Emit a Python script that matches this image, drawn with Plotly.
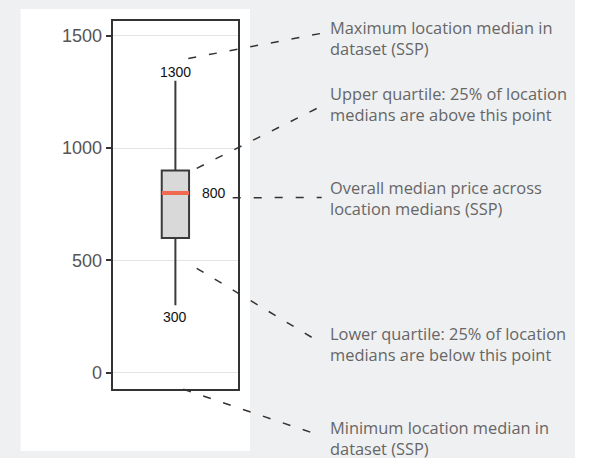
import plotly.graph_objects as go

# ---- data ----
stat_names = ["min", "q1", "median", "q3", "max"]
stat_values = [300, 600, 800, 900, 1300]
y_ticks = [0, 500, 1000, 1500]
y_tick_labels = ["0", "500", "1000", "1500"]
callout_texts = [
    "Maximum location median in<br>dataset (SSP)",
    "Upper quartile: 25% of location<br>medians are above this point",
    "Overall median price across<br>location medians (SSP)",
    "Lower quartile: 25% of location<br>medians are below this point",
    "Minimum location median in<br>dataset (SSP)",
]

vmin, q1, med, q3, vmax = stat_values

W, H = 575, 458
BOX_W = 0.22


def px(x):
    return x / W


def py(y):
    return 1 - y / H


fig = go.Figure()

fig.add_trace(go.Box(
    x=[0], q1=[q1], median=[med], q3=[q3], lowerfence=[vmin], upperfence=[vmax],
    width=BOX_W, whiskerwidth=0,
    fillcolor="#d9d9d9", line=dict(color="#3a3a3a", width=2),
    boxpoints=False, hoverinfo="skip", showlegend=False,
))
# red median line
fig.add_trace(go.Scatter(
    x=[-BOX_W / 2, BOX_W / 2], y=[med, med], mode="lines",
    line=dict(color="#ef6a50", width=4), hoverinfo="skip", showlegend=False,
))

# value labels
fig.add_annotation(x=0, y=vmax, text=str(vmax), showarrow=False, yshift=9,
                   font=dict(family="Arial", size=14, color="#111"))
fig.add_annotation(x=0, y=vmin, text=str(vmin), showarrow=False, yshift=-12,
                   font=dict(family="Arial", size=14, color="#111"))
fig.add_annotation(x=BOX_W / 2, y=med, text=str(med), showarrow=False, xanchor="left",
                   xshift=11, font=dict(family="Arial", size=14, color="#111"))

# background panels
shapes = [
    dict(type="rect", xref="paper", yref="paper", x0=px(20.7), x1=px(250), y0=py(451), y1=py(9),
         fillcolor="white", line=dict(width=0), layer="below"),
]

# callout lines (pixel geometry)
lines = [
    ((188.3, 58.5), (321.7, 33.3)),
    ((196.7, 168.3), (321.7, 106.0)),
    ((232.7, 197.7), (321.7, 197.5)),
    ((196.7, 268.3), (321.7, 343.3)),
    ((183.3, 389.3), (321.7, 436.0)),
]
for (x0, y0), (x1, y1) in lines:
    shapes.append(dict(type="line", xref="paper", yref="paper",
                       x0=px(x0), y0=py(y0), x1=px(x1), y1=py(y1),
                       line=dict(color="#333", width=1.5, dash="8px,13px"), layer="above"))

text_y = [37.5, 104, 197.7, 343.5, 437.5]
for t, yy in zip(callout_texts, text_y):
    fig.add_annotation(xref="paper", yref="paper", x=px(328), y=py(yy), text=t,
                       showarrow=False, xanchor="left", yanchor="middle", align="left",
                       font=dict(family="Open Sans", size=16.4, color="#666"))

fig.update_layout(
    width=W, height=H,
    margin=dict(l=0, r=0, t=0, b=0, autoexpand=False),
    paper_bgcolor="#eff0f2", plot_bgcolor="white",
    shapes=shapes,
    xaxis=dict(domain=[px(113.3), px(237.5)], range=[-0.5, 0.5], showticklabels=False,
               showgrid=False, zeroline=False, showline=True, mirror=True,
               linecolor="#333", linewidth=1.5, ticks=""),
    yaxis=dict(domain=[py(389), py(20.7)], range=[-72.6, 1567],
               tickvals=y_ticks, ticktext=y_tick_labels,
               showgrid=True, gridcolor="#e3e3e3", gridwidth=1, zeroline=False,
               showline=True, mirror=True, linecolor="#333", linewidth=1.5,
               ticks="outside", ticklen=6, tickwidth=2, tickcolor="#333",
               tickfont=dict(family="Arial", size=18, color="#555")),
)

fig.write_html("out.html", config={"displayModeBar": False},
               post_script="document.body.style.margin='0';")
